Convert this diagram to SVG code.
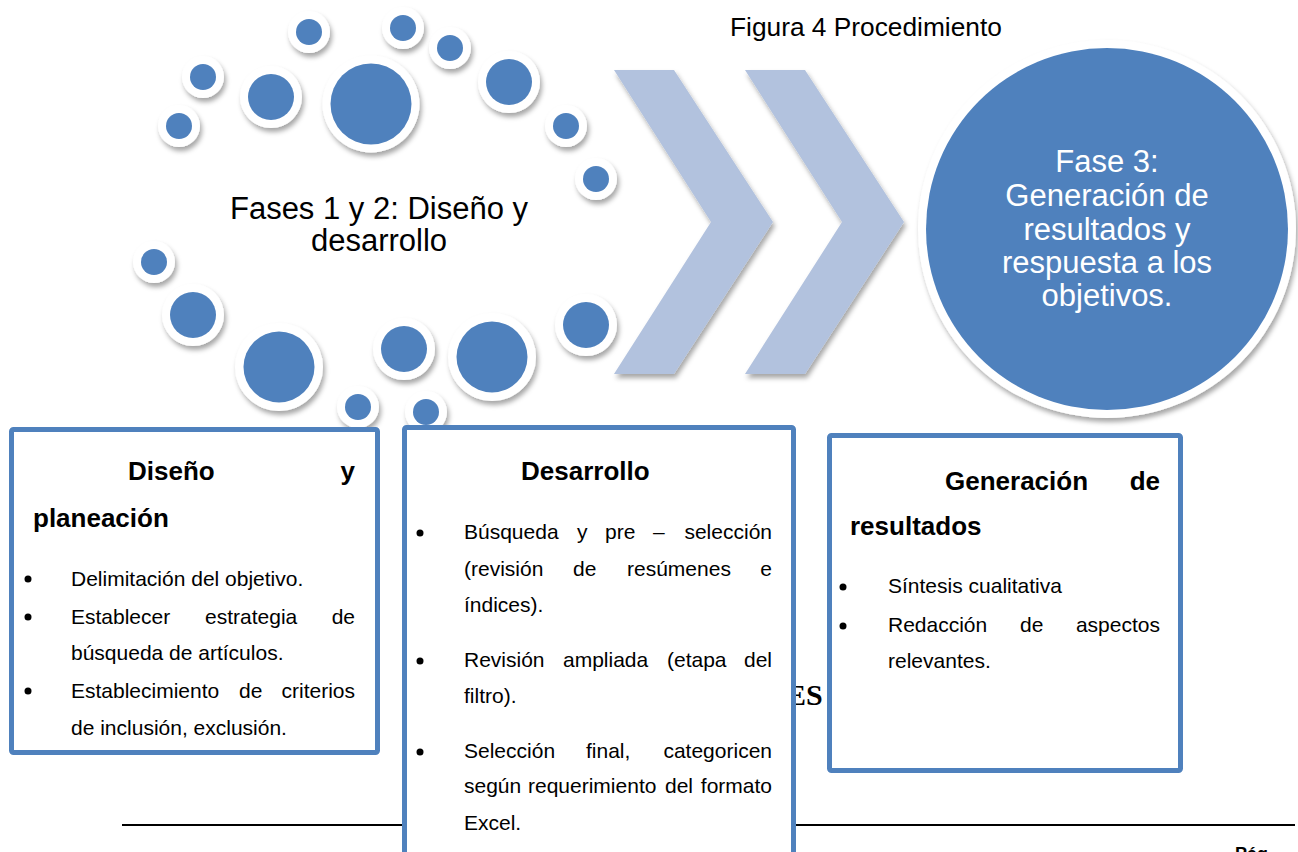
<svg xmlns="http://www.w3.org/2000/svg" width="1298" height="852" viewBox="0 0 1298 852">
<defs>
<filter id="sh" x="-30%" y="-30%" width="160%" height="160%">
<feDropShadow dx="2" dy="4" stdDeviation="2.5" flood-color="#000" flood-opacity="0.35"/>
</filter>
<style>
.ring{fill:#fff;filter:url(#sh)}
.dot{fill:#4F81BD}
.chev{fill:#B2C2DE;filter:url(#sh)}
.box{fill:#fff;stroke:#4F81BD;stroke-width:5}
.t{font-family:"Liberation Sans",Arial,sans-serif;fill:#000}
.big{font-size:31px}
.wt{fill:#fff;text-anchor:middle}
.h{font-size:26px;font-weight:bold}
.b{font-size:21px}
.e{text-anchor:end}
.bul{fill:#000}
</style>
</defs>
<rect width="1298" height="852" fill="#fff"/>

<text class="t" x="730" y="36" font-size="26.3">Figura 4 Procedimiento</text>

<g id="connectors">
<polygon class="chev" points="614,70 674,70 773,222 674,374 614,374 711,222"/>
<polygon class="chev" points="745,70 805,70 904,222 805,374 745,374 842,222"/>
</g>

<g id="fases12">
<g><circle class="ring" cx="309" cy="32" r="21"/><circle class="dot" cx="309" cy="32" r="13"/></g>
<g><circle class="ring" cx="403" cy="28" r="21"/><circle class="dot" cx="403" cy="28" r="13"/></g>
<g><circle class="ring" cx="450" cy="48" r="21"/><circle class="dot" cx="450" cy="48" r="13"/></g>
<g><circle class="ring" cx="203" cy="77" r="21"/><circle class="dot" cx="203" cy="77" r="13"/></g>
<g><circle class="ring" cx="179" cy="126" r="21"/><circle class="dot" cx="179" cy="126" r="13"/></g>
<g><circle class="ring" cx="566" cy="126" r="21"/><circle class="dot" cx="566" cy="126" r="13"/></g>
<g><circle class="ring" cx="596" cy="179" r="21"/><circle class="dot" cx="596" cy="179" r="13"/></g>
<g><circle class="ring" cx="154" cy="262" r="21"/><circle class="dot" cx="154" cy="262" r="13"/></g>
<g><circle class="ring" cx="358" cy="407" r="21"/><circle class="dot" cx="358" cy="407" r="13"/></g>
<g><circle class="ring" cx="426" cy="412" r="21"/><circle class="dot" cx="426" cy="412" r="13"/></g>
<g><circle class="ring" cx="271" cy="97" r="31"/><circle class="dot" cx="271" cy="97" r="23"/></g>
<g><circle class="ring" cx="509" cy="82" r="31"/><circle class="dot" cx="509" cy="82" r="23"/></g>
<g><circle class="ring" cx="193" cy="315" r="31"/><circle class="dot" cx="193" cy="315" r="23"/></g>
<g><circle class="ring" cx="404" cy="349" r="31"/><circle class="dot" cx="404" cy="349" r="23"/></g>
<g><circle class="ring" cx="586" cy="325" r="31"/><circle class="dot" cx="586" cy="325" r="23"/></g>
<g><circle class="ring" cx="279" cy="367" r="44"/><circle class="dot" cx="279" cy="367" r="35.5"/></g>
<g><circle class="ring" cx="492" cy="357" r="44"/><circle class="dot" cx="492" cy="357" r="35.5"/></g>
<g><circle class="ring" cx="371" cy="104" r="48.5"/><circle class="dot" cx="371" cy="104" r="40.5"/></g>
<text class="t big" x="379" y="219" text-anchor="middle">Fases 1 y 2: Diseño y</text>
<text class="t big" x="379" y="251" text-anchor="middle">desarrollo</text>
</g>

<g id="fase3">
<circle class="ring" cx="1107" cy="229" r="189"/>
<circle class="dot" cx="1107" cy="229" r="181"/>
<text class="t big wt" x="1107" y="172">Fase 3:</text>
<text class="t big wt" x="1107" y="206">Generación de</text>
<text class="t big wt" x="1107" y="240">resultados y</text>
<text class="t big wt" x="1107" y="273">respuesta a los</text>
<text class="t big wt" x="1107" y="306">objetivos.</text>
</g>

<line x1="122" y1="825" x2="1295" y2="825" stroke="#000" stroke-width="2"/>
<text x="786" y="705" font-family="'Liberation Serif','Times New Roman',serif" font-weight="bold" font-size="30" fill="#000">ES</text>
<text class="t" x="1235" y="860" font-size="18" font-weight="bold">Pág</text>

<g id="box-diseno">
<rect class="box" x="11.5" y="429.5" width="366" height="323" rx="2"/>
<text class="t h" x="128" y="480">Diseño</text>
<text class="t h e" x="355" y="480">y</text>
<text class="t h" x="33" y="527">planeación</text>
<circle class="bul" cx="28" cy="579" r="3.5"/>
<text class="t b" x="71" y="586">Delimitación del objetivo.</text>
<circle class="bul" cx="28" cy="617" r="3.5"/>
<text class="t b" x="71" y="624">Establecer</text>
<text class="t b" x="205" y="624">estrategia</text>
<text class="t b e" x="355" y="624">de</text>
<text class="t b" x="71" y="660">búsqueda de artículos.</text>
<circle class="bul" cx="28" cy="691" r="3.5"/>
<text class="t b" x="71" y="698">Establecimiento</text>
<text class="t b" x="239" y="698">de</text>
<text class="t b e" x="355" y="698">criterios</text>
<text class="t b" x="71" y="735">de inclusión, exclusión.</text>
</g>

<g id="box-desarrollo">
<rect class="box" x="404.5" y="427.5" width="389" height="440" rx="2"/>
<text class="t h" x="521" y="480">Desarrollo</text>
<circle class="bul" cx="420" cy="533" r="3.5"/>
<text class="t b" x="464" y="539">Búsqueda</text>
<text class="t b" x="577" y="539">y</text>
<text class="t b" x="605" y="539">pre</text>
<text class="t b" x="653" y="539">–</text>
<text class="t b e" x="772" y="539">selección</text>
<text class="t b" x="464" y="576">(revisión</text>
<text class="t b" x="573" y="576">de</text>
<text class="t b" x="627" y="576">resúmenes</text>
<text class="t b e" x="772" y="576">e</text>
<text class="t b" x="464" y="612">índices).</text>
<circle class="bul" cx="420" cy="661" r="3.5"/>
<text class="t b" x="464" y="667">Revisión</text>
<text class="t b" x="563" y="667">ampliada</text>
<text class="t b" x="667" y="667">(etapa</text>
<text class="t b e" x="772" y="667">del</text>
<text class="t b" x="464" y="703">filtro).</text>
<circle class="bul" cx="420" cy="752" r="3.5"/>
<text class="t b" x="464" y="758">Selección</text>
<text class="t b" x="586" y="758">final,</text>
<text class="t b e" x="772" y="758">categoricen</text>
<text class="t b" x="464" y="793">según</text>
<text class="t b" x="528" y="793">requerimiento</text>
<text class="t b" x="665" y="793">del</text>
<text class="t b e" x="772" y="793">formato</text>
<text class="t b" x="464" y="830">Excel.</text>
</g>

<g id="box-generacion">
<rect class="box" x="829.5" y="435.5" width="351" height="335" rx="2"/>
<text class="t h" x="945" y="490">Generación</text>
<text class="t h e" x="1160" y="490">de</text>
<text class="t h" x="850" y="535">resultados</text>
<circle class="bul" cx="843" cy="587" r="3.5"/>
<text class="t b" x="888" y="593">Síntesis cualitativa</text>
<circle class="bul" cx="843" cy="626" r="3.5"/>
<text class="t b" x="888" y="632">Redacción</text>
<text class="t b" x="1020" y="632">de</text>
<text class="t b e" x="1160" y="632">aspectos</text>
<text class="t b" x="888" y="668">relevantes.</text>
</g>
</svg>
